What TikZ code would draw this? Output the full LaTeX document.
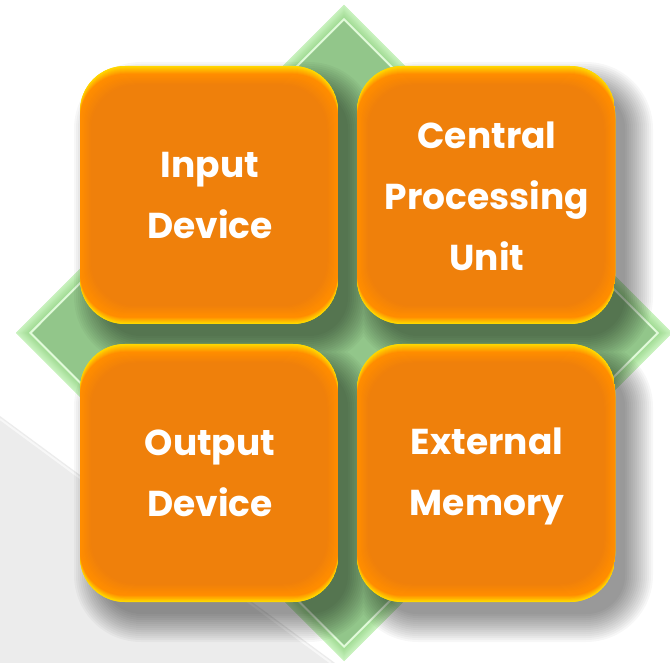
\documentclass[tikz,border=0pt]{standalone}
\usepackage{fontspec}
\setmainfont{Poppins}
\definecolor{orin}{RGB}{239,128,11}
\definecolor{orrim}{RGB}{255,140,0}
\definecolor{yel}{RGB}{255,216,0}
\definecolor{gfill}{RGB}{146,198,138}
\definecolor{glight}{RGB}{200,242,190}
\definecolor{gmid}{RGB}{165,222,152}
\definecolor{gedge}{RGB}{225,250,218}
\definecolor{bgray}{RGB}{236,236,236}
\tikzset{
  lbl/.style={text=white, font=\fontsize{36}{61}\selectfont\bfseries, align=center, inner sep=0pt},
}
\newcommand{\obox}[4]{%
  \begin{scope}
    \clip[rounded corners=45pt] (#1,#2) rectangle (#3,#4);
    \fill[yel] (#1,#2) rectangle (#3,#4);
    \foreach \k in {0,...,8}{%
      \pgfmathsetmacro\p{100*\k/8}%
      \fill[orrim!\p!yel, rounded corners=45pt] (#1,#2+\k) rectangle (#3,#4-0.8*\k);
    }
    \foreach \k in {0,...,10}{%
      \pgfmathsetmacro\p{100*\k/10}%
      \fill[orin!\p!orrim, rounded corners=45pt] (#1+1+\k,#2+9+\k) rectangle (#3-1-\k,#4-8-\k);
    }
  \end{scope}
}
\newcommand{\shrect}[5]{(#1-#5+16,#2-#5+18) rectangle (#3+#5+16,#4+#5+18)}
\begin{document}
\begin{tikzpicture}[x=1pt,y=-1pt]
\useasboundingbox (0,0) rectangle (670,663);
\fill[white] (0,0) rectangle (670,663);
% gray background
\fill[bgray] (0,416) -- (335,663) -- (0,663) -- cycle;
\draw[white!60!bgray, line width=2pt] (0,419) -- (331,663);
% diamond
\fill[glight] (344,5) -- (672,333) -- (344,661) -- (16,333) -- cycle;
\foreach \k in {0,...,8}{%
  \pgfmathsetmacro\p{100*\k/8}%
  \pgfmathsetmacro\h{328-\k*1.4}%
  \fill[gmid!\p!glight] (344,333-\h) -- (344+\h,333) -- (344,333+\h) -- (344-\h,333) -- cycle;
}
\fill[gedge] (344,18) -- (659,333) -- (344,648) -- (29,333) -- cycle;
\fill[gfill] (344,21) -- (656,333) -- (344,645) -- (32,333) -- cycle;
% shadow
\foreach \e in {-6,-4,...,22}{%
  \fill[black, opacity=0.03, rounded corners=45pt+\e pt]
    \shrect{80}{66}{338}{324}{\e} \shrect{357}{66}{615}{324}{\e}
    \shrect{80}{344}{338}{602}{\e} \shrect{357}{344}{615}{602}{\e};
}
% boxes
\obox{80}{66}{338}{324}
\obox{357}{66}{615}{324}
\obox{80}{344}{338}{602}
\obox{357}{344}{615}{602}
% labels
\node[lbl] (input) at (210,196) {Input\\Device};
\node[lbl] (cpu) at (487,196) {Central\\Processing\\Unit};
\node[lbl] (output) at (210,473) {Output\\Device};
\node[lbl] (memory) at (487,476) {External\\Memory};
\end{tikzpicture}
\end{document}
